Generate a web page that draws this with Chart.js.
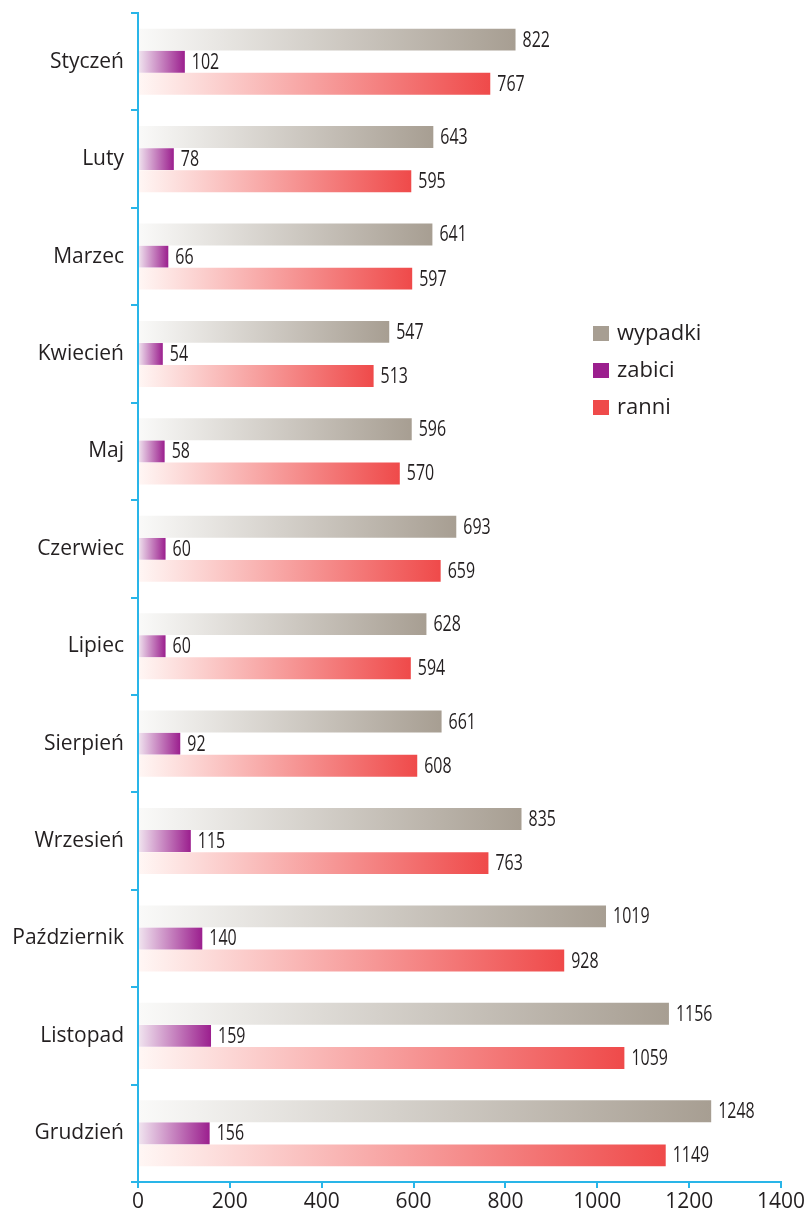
<!DOCTYPE html>
<html>
<head>
<meta charset="utf-8">
<script src="https://cdn.jsdelivr.net/npm/chart.js@4"></script>
<style>
  html, body { margin: 0; padding: 0; background: #fff; }
  #wrap { position: relative; width: 809px; height: 1210px; }
  #legend { position: absolute; left: 593px; top: 313px; font-family: "Open Sans", sans-serif; font-size: 22px; color: #231f20; }
  #legend div { height: 37px; line-height: 37px; white-space: nowrap; }
  #legend span { display: inline-block; width: 16px; height: 15px; margin-right: 8px; vertical-align: -1px; }
</style>
</head>
<body>
<div id="wrap">
  <canvas id="chart" width="809" height="1210"></canvas>
  <div id="legend">
    <div><span style="background:#a79e92"></span>wypadki</div>
    <div><span style="background:#9b1f8e"></span>zabici</div>
    <div><span style="background:#ef4a4a"></span>ranni</div>
  </div>
</div>
<script>
var months = ['Styczeń', 'Luty', 'Marzec', 'Kwiecień', 'Maj', 'Czerwiec', 'Lipiec', 'Sierpień', 'Wrzesień', 'Październik', 'Listopad', 'Grudzień'];
var wypadki = [822, 643, 641, 547, 596, 693, 628, 661, 835, 1019, 1156, 1248];
var zabici = [102, 78, 66, 54, 58, 60, 60, 92, 115, 140, 159, 156];
var ranni = [767, 595, 597, 513, 570, 659, 594, 608, 763, 928, 1059, 1149];
var xTicks = [0, 200, 400, 600, 800, 1000, 1200, 1400];

var axisColor = '#29b5e8';
var textColor = '#231f20';

// gradient from white to the full colour, over the length of each bar
function barGradient(start, end) {
    return function (c) {
        var chart = c.chart, xs = chart.scales.x;
        if (!xs || c.parsed == null || c.type !== 'data') return end;
        var x0 = xs.getPixelForValue(0);
        var x1 = xs.getPixelForValue(c.parsed.x);
        if (!isFinite(x0) || !isFinite(x1) || x1 - x0 < 1) return end;
        var g = chart.ctx.createLinearGradient(x0, 0, x1, 0);
        g.addColorStop(0, start);
        g.addColorStop(1, end);
        return g;
    };
}

// numbers after the bars, a bit condensed like the original
var valueLabels = {
    id: 'valueLabels',
    afterDatasetsDraw: function (chart) {
        var ctx = chart.ctx;
        chart.data.datasets.forEach(function (ds, i) {
            chart.getDatasetMeta(i).data.forEach(function (bar, j) {
                ctx.save();
                ctx.font = '21px "Open Sans", sans-serif';
                ctx.fillStyle = textColor;
                ctx.textAlign = 'left';
                ctx.textBaseline = 'middle';
                ctx.translate(bar.x + 7, bar.y + 1);
                ctx.scale(0.76, 1);
                ctx.fillText(ds.data[j], 0, 0);
                ctx.restore();
            });
        });
    }
};

new Chart(document.getElementById('chart'), {
    type: 'bar',
    data: {
        labels: months,
        datasets: [
            { label: 'wypadki', data: wypadki, backgroundColor: barGradient('#fafaf9', '#a79e92') },
            { label: 'zabici', data: zabici, backgroundColor: barGradient('#f1e6f0', '#9b1f8e') },
            { label: 'ranni', data: ranni, backgroundColor: barGradient('#fff7f5', '#ef4a4a') }
        ]
    },
    options: {
        indexAxis: 'y',
        responsive: false,
        animation: false,
        devicePixelRatio: 1,
        layout: { padding: { top: 13, right: 28, left: 0, bottom: 0 } },
        datasets: { bar: { categoryPercentage: 0.68, barPercentage: 0.99 } },
        plugins: { legend: { display: false }, tooltip: { enabled: false } },
        scales: {
            x: {
                min: 0, max: 1400,
                afterBuildTicks: function (s) { s.ticks = xTicks.map(function (v) { return { value: v }; }); },
                afterFit: function (s) { s.height = 28; },
                border: { color: axisColor, width: 2 },
                grid: { drawOnChartArea: false, color: axisColor, lineWidth: 2, tickLength: 6 },
                ticks: {
                    color: textColor, font: { family: 'Open Sans', size: 21 }, padding: 1, maxRotation: 0,
                    callback: function (v) { return String(v); }
                }
            },
            y: {
                afterFit: function (s) { s.width = 138; s.paddingTop = 0; s.paddingBottom = 0; },
                border: { color: axisColor, width: 2 },
                grid: { drawOnChartArea: false, color: axisColor, lineWidth: 2, tickLength: 7, offset: true },
                ticks: { color: textColor, font: { family: 'Open Sans', size: 21 }, padding: 7 }
            }
        }
    },
    plugins: [valueLabels]
});
</script>
</body>
</html>
